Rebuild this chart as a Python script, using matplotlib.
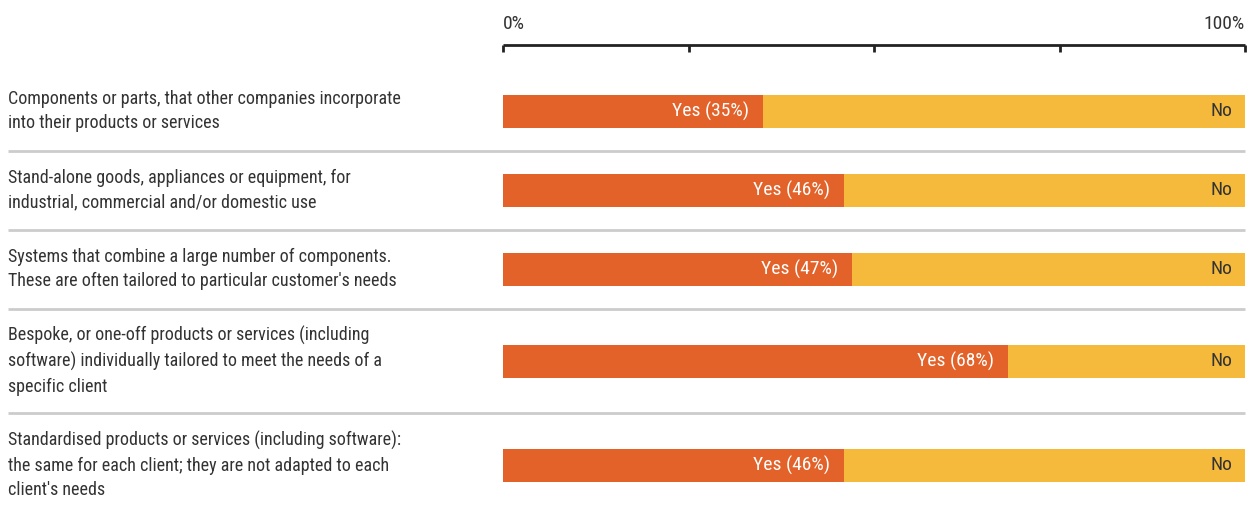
import matplotlib.pyplot as plt

plt.rcParams['font.family'] = ['Roboto Condensed', 'DejaVu Sans']

categories = [
    "Components or parts, that other companies incorporate\ninto their products or services",
    "Stand-alone goods, appliances or equipment, for\nindustrial, commercial and/or domestic use",
    "Systems that combine a large number of components.\nThese are often tailored to particular customer's needs",
    "Bespoke, or one-off products or services (including\nsoftware) individually tailored to meet the needs of a\nspecific client",
    "Standardised products or services (including software):\nthe same for each client; they are not adapted to each\nclient's needs",
]
yes = [35, 46, 47, 68, 46]
no = [100 - v for v in yes]

# row centres and separators in pixel rows (figure is 514 px tall)
row_y = [111, 190, 269, 361, 465]
sep_y = [151, 230, 309, 413]

W, H = 1253, 514
fig = plt.figure(figsize=(W / 100, H / 100), dpi=100)
x0, x1 = 503, 1245
ax = fig.add_axes([x0 / W, 0, (x1 - x0) / W, 1])
ax.set_xlim(0, 100)
ax.set_ylim(H, 0)
ax.axis('off')

orange = '#E2622A'
yellow = '#F5B93C'
ax.barh(row_y, yes, height=33, color=orange, linewidth=0)
ax.barh(row_y, no, left=yes, height=33, color=yellow, linewidth=0)

px = 100 / (x1 - x0)
for y, v in zip(row_y, yes):
    ax.text(v - 14 * px, y, f"Yes ({v}%)", color='white', fontsize=14,
            ha='right', va='center')
    ax.text(100 - 13 * px, y, "No", color='#333333', fontsize=14,
            ha='right', va='center')

# top scale
ax.hlines(45, 0, 100, color='#222222', lw=2, clip_on=False)
ax.vlines([0, 25, 50, 75, 100], 45, 52, color='#222222', lw=2, clip_on=False)
ax.text(0, 24, "0%", fontsize=14, color='#333333', ha='left', va='center')
ax.text(100, 24, "100%", fontsize=14, color='#333333', ha='right', va='center')

# separators across the whole width
for y in sep_y:
    ax.plot([(8 - x0) * px, 100], [y, y], color='#cccccc', lw=2,
            clip_on=False, solid_capstyle='butt')

for y, label in zip(row_y, categories):
    fig.text(8 / W, 1 - y / H, label, fontsize=13, color='#333333',
             ha='left', va='center', linespacing=1.45)

fig.savefig('out.png', dpi=100)
